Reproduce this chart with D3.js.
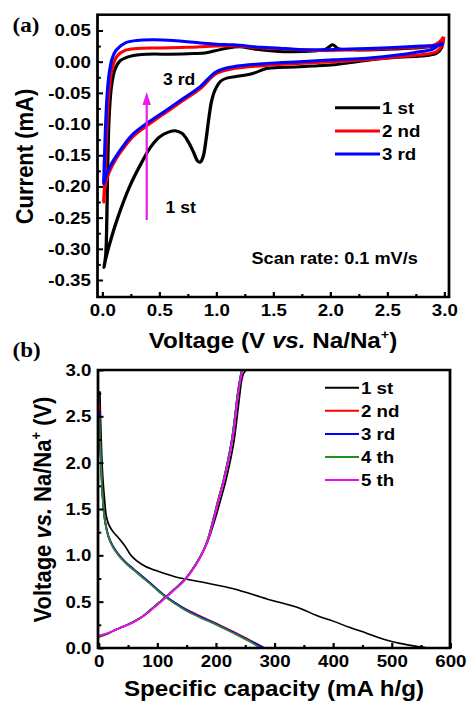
<!DOCTYPE html>
<html>
<head>
<meta charset="utf-8">
<script src="https://cdn.jsdelivr.net/npm/d3@7"></script>
<style>
body { margin: 0; background: #fff; }
</style>
</head>
<body>
<div id="chart"></div>
<script>
// ---- data (a): cyclic voltammetry, [voltage V, current mA]
var cv1st = [
	[2.99,0.038],[2.975,0.022],[2.93,0.013],[2.8,0.009],[2.6,0.007],[2.4,0.004],[2.2,-0.001],[2.03,-0.005],
	[1.85,-0.007],[1.6,-0.009],[1.44,-0.011],[1.32,-0.019],[1.2,-0.023],[1.1,-0.026],[1.04,-0.031],[0.99,-0.045],
	[0.96,-0.062],[0.935,-0.09],[0.91,-0.125],[0.885,-0.152],[0.86,-0.161],[0.835,-0.159],[0.8,-0.145],[0.75,-0.127],
	[0.7,-0.115],[0.65,-0.111],[0.58,-0.113],[0.5,-0.121],[0.42,-0.138],[0.35,-0.16],[0.24,-0.2],[0.13,-0.253],
	[0.06,-0.295],[0.025,-0.32],[0.015,-0.33],
	[0.03,-0.31],[0.04,-0.25],[0.045,-0.19],[0.052,-0.13],[0.062,-0.08],[0.08,-0.04],[0.11,-0.013],[0.16,0.002],
	[0.25,0.009],[0.4,0.012],[0.6,0.012],[0.8,0.013],[0.9,0.014],[0.98,0.017],[1.08,0.021],[1.2,0.024],[1.35,0.02],
	[1.6,0.016],[1.85,0.017],[1.96,0.02],[2.02,0.027],[2.07,0.021],[2.2,0.019],[2.5,0.02],[2.75,0.022],[2.9,0.025],
	[2.96,0.03],[2.99,0.038]
];
var cv2nd = [
	[2.995,0.04],[2.98,0.026],[2.93,0.016],[2.8,0.011],[2.61,0.008],[2.32,0.003],[2.03,0.0],[1.73,-0.003],
	[1.44,-0.006],[1.15,-0.011],[1.0,-0.019],[0.86,-0.043],[0.71,-0.062],[0.56,-0.081],[0.39,-0.103],[0.27,-0.12],
	[0.18,-0.14],[0.12,-0.156],[0.07,-0.173],[0.035,-0.19],[0.018,-0.21],[0.012,-0.225],
	[0.02,-0.2],[0.028,-0.16],[0.036,-0.12],[0.048,-0.075],[0.065,-0.035],[0.09,-0.008],[0.13,0.009],[0.2,0.018],
	[0.3,0.021],[0.5,0.022],[0.75,0.023],[1.0,0.025],[1.15,0.025],[1.4,0.022],[1.65,0.02],[1.9,0.018],[2.2,0.019],
	[2.5,0.021],[2.75,0.023],[2.9,0.026],[2.96,0.032],[2.995,0.04]
];
var cv3rd = [
	[2.99,0.03],[2.96,0.028],[2.9,0.02],[2.75,0.015],[2.61,0.011],[2.32,0.0055],[2.03,0.003],[1.73,0.0],
	[1.44,-0.003],[1.15,-0.008],[1.0,-0.016],[0.86,-0.04],[0.71,-0.059],[0.56,-0.078],[0.39,-0.099],[0.27,-0.116],
	[0.18,-0.136],[0.12,-0.152],[0.068,-0.168],[0.03,-0.184],[0.012,-0.196],
	[0.015,-0.18],[0.022,-0.14],[0.03,-0.1],[0.042,-0.055],[0.06,-0.02],[0.085,0.004],[0.12,0.018],[0.2,0.03],
	[0.3,0.034],[0.45,0.035],[0.62,0.034],[0.86,0.03],[1.0,0.028],[1.15,0.027],[1.4,0.023],[1.6,0.021],[1.88,0.019],
	[2.1,0.02],[2.32,0.021],[2.6,0.023],[2.8,0.025],[2.92,0.026],[2.97,0.027],[2.99,0.03]
];
var cvLegend = ["1 st", "2 nd", "3 rd"];
var cvXTicks = [0, 0.5, 1.0, 1.5, 2.0, 2.5, 3.0];
var cvYTicks = [0.05, 0, -0.05, -0.10, -0.15, -0.20, -0.25, -0.30, -0.35];

// ---- data (b): charge / discharge, [capacity mA h/g, voltage V]
var gcd1Dis = [[2,2.77],[3,2.5],[4.5,2.2],[6,1.95],[8,1.75],[10,1.6],[13,1.42],[18,1.32],[25,1.25],[35,1.18],
	[45,1.1],[55,1.0],[65,0.94],[80,0.88],[100,0.83],[130,0.77],[173,0.715],[230,0.64],[287,0.53],[343,0.43],
	[372,0.35],[400,0.29],[429,0.22],[457,0.16],[486,0.095],[514,0.05],[540,0.02],[562,0]];
var gcd2Dis = [[1,2.63],[2,2.4],[3.5,2.1],[5,1.85],[7,1.62],[9,1.47],[12,1.33],[17,1.2],[25,1.09],[35,1.0],
	[47,0.92],[60,0.85],[75,0.77],[90,0.69],[110,0.58],[130,0.49],[150,0.415],[173,0.345],[201,0.265],[230,0.175],
	[258,0.085],[283,0]];
var gcd3Dis = [[1,2.56],[2,2.36],[3.5,2.08],[5,1.84],[7,1.61],[9,1.46],[12,1.33],[17,1.2],[25,1.09],[35,1.0],
	[47,0.92],[60,0.85],[75,0.77],[90,0.69],[110,0.58],[130,0.49],[150,0.41],[173,0.34],[201,0.26],[230,0.17],
	[258,0.08],[282,0]];
var gcd4Dis = [[1,2.5],[2,2.3],[3.5,2.05],[5,1.82],[7,1.6],[9,1.45],[12,1.32],[17,1.19],[25,1.08],[35,0.99],
	[47,0.91],[60,0.84],[75,0.76],[90,0.68],[110,0.57],[130,0.48],[150,0.4],[173,0.33],[201,0.25],[230,0.16],
	[258,0.07],[276,0]];
var gcd5Dis = [[1,2.45],[2,2.28],[3.5,2.04],[5,1.81],[7,1.6],[9,1.45],[12,1.32],[17,1.19],[25,1.08],[35,0.99],
	[47,0.91],[60,0.84],[75,0.76],[90,0.68],[110,0.57],[130,0.48],[150,0.4],[173,0.33],[201,0.25],[230,0.16],
	[258,0.07],[278,0]];
var gcd1Chg = [[0,0.12],[10,0.14],[20,0.17],[30,0.2],[45,0.24],[59,0.28],[75,0.34],[90,0.42],[105,0.5],[116,0.56],
	[130,0.64],[144,0.72],[158,0.83],[173,0.98],[186,1.15],[199,1.4],[208,1.6],[217,1.81],[230,2.2],[240,2.7],
	[244,2.89],[247,2.96],[252,3.0]];
var gcd2Chg = [[0,0.12],[10,0.14],[20,0.17],[30,0.2],[45,0.24],[59,0.28],[75,0.34],[90,0.42],[105,0.5],[116,0.56],
	[130,0.64],[144,0.72],[158,0.83],[173,0.98],[185,1.15],[196,1.4],[204,1.6],[213,1.81],[227,2.24],[238,2.78],[244,3.0]];
var gcd3Chg = [[0,0.125],[10,0.145],[20,0.17],[30,0.2],[45,0.24],[59,0.28],[75,0.34],[90,0.42],[105,0.5],[116,0.56],
	[130,0.64],[144,0.72],[158,0.83],[173,0.98],[185,1.15],[196,1.4],[204,1.6],[213,1.81],[227,2.24],[238,2.78],[244,3.0]];
var gcd4Chg = [[0,0.125],[10,0.145],[20,0.17],[30,0.2],[45,0.24],[59,0.28],[75,0.34],[90,0.42],[105,0.5],[116,0.56],
	[130,0.64],[144,0.72],[158,0.83],[173,0.98],[185,1.15],[196,1.4],[204,1.6],[213,1.81],[227,2.24],[238,2.78],[244,3.0]];
var gcd5Chg = [[0,0.135],[10,0.15],[20,0.17],[30,0.2],[45,0.235],[59,0.275],[75,0.335],[90,0.41],[105,0.49],[116,0.55],
	[130,0.63],[144,0.71],[158,0.82],[173,0.97],[186,1.15],[197,1.4],[205,1.6],[214,1.81],[228,2.24],[239,2.78],[245,3.0]];
var gcdLegend = ["1 st", "2 nd", "3 rd", "4 th", "5 th"];
var gcdXTicks = [0, 100, 200, 300, 400, 500, 600];
var gcdYTicks = [0, 0.5, 1.0, 1.5, 2.0, 2.5, 3.0];

var cvColors = ["#000000", "#ff0000", "#0000ff"];
var gcdColors = ["#000000", "#ff0000", "#0000ff", "#1f8f1f", "#ff00ff"];

// the picture is a little wider than tall in its glyphs, so draw in a stretched group
var SX = 1.1,
	W = 468,
	H = 705,
	font = "'Liberation Sans', Arial, sans-serif";

function ux(p) { return p / SX; }

var svg = d3.select("#chart").append("svg")
	.attr("width", W)
	.attr("height", H)
	.style("background", "#fff");

var g = svg.append("g").attr("transform", "scale(" + SX + ",1)")
	.attr("font-family", font)
	.attr("font-weight", "bold");

function mids(arr) {
	return d3.pairs(arr).map(function (p) { return (p[0] + p[1]) / 2; });
}

function drawAxes(panel, box, x, y, xt, yt, xfmt, yfmt) {
	var bx = panel.append("g").attr("transform", "translate(0," + box.b + ")");
	bx.call(d3.axisBottom(x).tickValues(xt).tickSize(-5).tickPadding(7).tickFormat(xfmt));
	bx.append("g").call(d3.axisBottom(x).tickValues(mids(xt)).tickSize(-3).tickFormat(""));
	var ly = panel.append("g").attr("transform", "translate(" + box.l + ",0)");
	ly.call(d3.axisLeft(y).tickValues(yt).tickSize(-5).tickPadding(6).tickFormat(yfmt));
	ly.append("g").call(d3.axisLeft(y).tickValues(mids(yt)).tickSize(-3).tickFormat(""));
	panel.selectAll(".domain").remove();
	panel.selectAll(".tick line").attr("stroke", "#000").attr("stroke-width", 2);
	panel.selectAll(".tick text")
		.attr("font-family", font)
		.attr("font-weight", "bold")
		.attr("font-size", 17)
		.attr("fill", "#000");
	panel.append("rect")
		.attr("x", box.l).attr("y", box.t)
		.attr("width", box.r - box.l).attr("height", box.b - box.t)
		.attr("fill", "none").attr("stroke", "#000").attr("stroke-width", 2.5);
}

// ================= panel (a)
var aBox = {l: ux(97.5), r: ux(449), t: 14.7, b: 297};
var xA = d3.scaleLinear().domain([0, 3]).range([ux(102.3), ux(444.3)]);
var yA = d3.scaleLinear().domain([-0.35, 0.05]).range([280, 30.5]);

var pa = g.append("g");
pa.append("clipPath").attr("id", "clipA").append("rect")
	.attr("x", aBox.l).attr("y", aBox.t).attr("width", aBox.r - aBox.l).attr("height", aBox.b - aBox.t);

var lineA = d3.line()
	.x(function (d) { return xA(d[0]); })
	.y(function (d) { return yA(d[1]); })
	.curve(d3.curveCatmullRom.alpha(0.5));

pa.append("g").attr("clip-path", "url(#clipA)")
	.selectAll("path")
	.data([cv1st, cv2nd, cv3rd])
	.join("path")
	.attr("d", lineA)
	.attr("fill", "none")
	.attr("stroke", function (d, i) { return cvColors[i]; })
	.attr("stroke-width", 3)
	.attr("stroke-linejoin", "round");

drawAxes(pa, aBox, xA, yA, cvXTicks, cvYTicks,
	function (v) { return v.toFixed(1); },
	function (v) { return v.toFixed(2); });

// legend (a)
var lgA = pa.append("g");
cvLegend.forEach(function (t, i) {
	var yy = 107.7 + i * 23.2;
	lgA.append("line")
		.attr("x1", ux(335)).attr("x2", ux(380)).attr("y1", yy).attr("y2", yy)
		.attr("stroke", cvColors[i]).attr("stroke-width", 3);
	lgA.append("text")
		.attr("x", ux(382)).attr("y", yy + 6)
		.attr("font-size", 17)
		.text(t);
});

// arrow and notes
var ax = ux(146.7);
pa.append("line")
	.attr("x1", ax).attr("x2", ax).attr("y1", 220).attr("y2", 104)
	.attr("stroke", "#e61ee6").attr("stroke-width", 2);
pa.append("path")
	.attr("d", "M" + ax + ",92L" + ux(142.5) + ",105L" + ux(150.9) + ",105Z")
	.attr("fill", "#e61ee6");
pa.append("text").attr("x", ux(163)).attr("y", 85.5).attr("font-size", 16).text("3 rd");
pa.append("text").attr("x", ux(165.5)).attr("y", 213).attr("font-size", 16).text("1 st");
pa.append("text").attr("x", ux(251.5)).attr("y", 264).attr("font-size", 16.5).text("Scan rate: 0.1 mV/s");

// titles (a)
var tA = pa.append("text")
	.attr("x", ux(273)).attr("y", 348)
	.attr("text-anchor", "middle")
	.attr("font-size", 22);
tA.append("tspan").text("Voltage (V ");
tA.append("tspan").attr("font-style", "italic").text("vs.");
tA.append("tspan").text(" Na/Na");
tA.append("tspan").attr("font-size", 13).attr("dy", -9).text("+");
tA.append("tspan").attr("dy", 9).text(")");

pa.append("text")
	.attr("transform", "translate(" + ux(33) + ",156.5) rotate(-90)")
	.attr("text-anchor", "middle")
	.attr("font-size", 22)
	.text("Current (mA)");

pa.append("text")
	.attr("x", ux(12.5)).attr("y", 32)
	.attr("font-family", "'Liberation Serif', 'Times New Roman', serif")
	.attr("font-size", 21)
	.text("(a)");

// ================= panel (b)
var bBox = {l: ux(98), r: ux(450), t: 370, b: 648};
var xB = d3.scaleLinear().domain([0, 600]).range([ux(98.7), ux(450.3)]);
var yB = d3.scaleLinear().domain([0, 3]).range([648, 370]);

var pb = g.append("g");
pb.append("clipPath").attr("id", "clipB").append("rect")
	.attr("x", bBox.l).attr("y", bBox.t).attr("width", bBox.r - bBox.l).attr("height", bBox.b - bBox.t);

var lineB = d3.line()
	.x(function (d) { return xB(d[0]); })
	.y(function (d) { return yB(d[1]); })
	.curve(d3.curveCatmullRom.alpha(0.5));

var dis = [gcd1Dis, gcd2Dis, gcd3Dis, gcd4Dis, gcd5Dis],
	chg = [gcd1Chg, gcd2Chg, gcd3Chg, gcd4Chg, gcd5Chg],
	disOrder = [0, 4, 1, 2, 3],
	chgOrder = [0, 1, 2, 3, 4];

var cb = pb.append("g").attr("clip-path", "url(#clipB)");
disOrder.forEach(function (i) {
	cb.append("path").attr("d", lineB(dis[i]))
		.attr("fill", "none").attr("stroke", gcdColors[i]).attr("stroke-width", 1.6);
});
chgOrder.forEach(function (i) {
	cb.append("path").attr("d", lineB(chg[i]))
		.attr("fill", "none").attr("stroke", gcdColors[i]).attr("stroke-width", 1.6);
});

drawAxes(pb, bBox, xB, yB, gcdXTicks, gcdYTicks,
	function (v) { return String(v); },
	function (v) { return v.toFixed(1); });

// legend (b)
var lgB = pb.append("g");
gcdLegend.forEach(function (t, i) {
	var yy = 387.7 + i * 23.1;
	lgB.append("line")
		.attr("x1", ux(325)).attr("x2", ux(359)).attr("y1", yy).attr("y2", yy)
		.attr("stroke", gcdColors[i]).attr("stroke-width", 2);
	lgB.append("text")
		.attr("x", ux(361)).attr("y", yy + 6)
		.attr("font-size", 17)
		.text(t);
});

// titles (b)
pb.append("text")
	.attr("x", ux(274)).attr("y", 696.5)
	.attr("text-anchor", "middle")
	.attr("font-size", 22)
	.text("Specific capacity (mA h/g)");

var tB = pb.append("text")
	.attr("transform", "translate(" + ux(51) + ",509.5) rotate(-90)")
	.attr("text-anchor", "middle")
	.attr("font-size", 22);
tB.append("tspan").text("Voltage ");
tB.append("tspan").attr("font-style", "italic").text("vs.");
tB.append("tspan").text(" Na/Na");
tB.append("tspan").attr("font-size", 13).attr("dy", -9).text("+");
tB.append("tspan").attr("dy", 9).text(" (V)");

pb.append("text")
	.attr("x", ux(12.5)).attr("y", 357)
	.attr("font-family", "'Liberation Serif', 'Times New Roman', serif")
	.attr("font-size", 21)
	.text("(b)");
</script>
</body>
</html>
